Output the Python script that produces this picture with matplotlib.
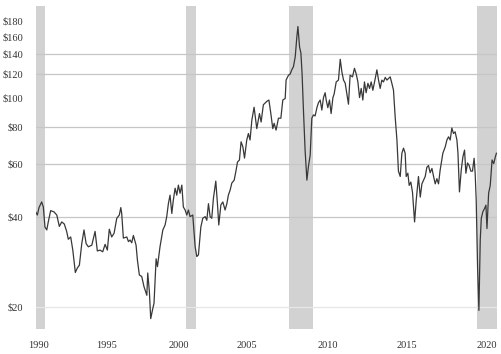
import matplotlib
matplotlib.use("Agg")
import matplotlib.pyplot as plt
from matplotlib.ticker import FixedLocator, FixedFormatter, NullLocator

years = [
    1990.25, 1990.35, 1990.46, 1990.64, 1990.75, 1990.86, 1990.98, 1991.08, 1991.24, 1991.46,
    1991.65, 1991.82, 1991.98, 1992.15, 1992.31, 1992.42, 1992.58, 1992.72, 1992.89, 1993.02,
    1993.16, 1993.32, 1993.47, 1993.61, 1993.76, 1993.99, 1994.21, 1994.36, 1994.54, 1994.72,
    1994.88, 1995.03, 1995.16, 1995.32, 1995.48, 1995.66, 1995.83, 1995.93, 1995.99, 1996.10,
    1996.33, 1996.44, 1996.55, 1996.66, 1996.77, 1996.95, 1997.04, 1997.17, 1997.33, 1997.48,
    1997.67, 1997.73, 1997.84, 1997.93, 1998.07, 1998.15, 1998.29, 1998.38, 1998.55, 1998.74,
    1998.89, 1999.00, 1999.11, 1999.22, 1999.34, 1999.44, 1999.56, 1999.67, 1999.78, 1999.89,
    2000.01, 2000.11, 2000.23, 2000.34, 2000.45, 2000.56, 2000.74, 2000.90, 2001.01, 2001.12,
    2001.28, 2001.41, 2001.57, 2001.68, 2001.79, 2001.90, 2002.01, 2002.12, 2002.28, 2002.39,
    2002.48, 2002.62, 2002.75, 2002.90, 2003.02, 2003.12, 2003.24, 2003.35, 2003.51, 2003.64,
    2003.73, 2003.86, 2003.97, 2004.09, 2004.20, 2004.35, 2004.46, 2004.57, 2004.69, 2004.84,
    2005.02, 2005.20, 2005.31, 2005.46, 2005.69, 2005.83, 2005.96, 2006.09, 2006.18, 2006.31,
    2006.47, 2006.63, 2006.76, 2006.92, 2006.98, 2007.14, 2007.25, 2007.36, 2007.47, 2007.59,
    2007.70, 2007.77, 2007.88, 2007.97, 2008.05, 2008.14, 2008.25, 2008.37, 2008.47, 2008.59,
    2008.70, 2008.81, 2008.92, 2009.04, 2009.14, 2009.26, 2009.37, 2009.48, 2009.59, 2009.66,
    2009.77, 2009.88, 2009.99, 2010.11, 2010.19, 2010.33, 2010.48, 2010.60, 2010.71, 2010.82,
    2010.93, 2011.04, 2011.15, 2011.26, 2011.42, 2011.55, 2011.67, 2011.78, 2011.89, 2012.00,
    2012.11, 2012.22, 2012.33, 2012.45, 2012.56, 2012.67, 2012.78, 2012.94, 2013.05, 2013.16,
    2013.27, 2013.38, 2013.49, 2013.61, 2013.72, 2013.83, 2013.94, 2014.05, 2014.16, 2014.27,
    2014.39, 2014.49, 2014.61, 2014.72, 2014.83, 2014.94, 2015.01, 2015.12, 2015.21, 2015.32,
    2015.43, 2015.57, 2015.68, 2015.83, 2015.95, 2016.06, 2016.17, 2016.28, 2016.39, 2016.50,
    2016.61, 2016.73, 2016.84, 2016.95, 2017.06, 2017.17, 2017.28, 2017.46, 2017.62, 2017.73,
    2017.84, 2017.95, 2018.06, 2018.17, 2018.28, 2018.40, 2018.47, 2018.57, 2018.69, 2018.80,
    2018.91, 2019.00, 2019.11, 2019.22, 2019.33, 2019.44, 2019.55, 2019.62, 2019.69, 2019.78,
    2019.87, 2019.96, 2020.03, 2020.14, 2020.25, 2020.34, 2020.41, 2020.52, 2020.63, 2020.75,
    2020.86, 2020.97, 2021.04,
]

prices = [
    41.5, 40.6, 43.0, 44.9, 43.2, 37.0, 36.2, 38.5, 42.0, 41.6,
    40.6, 37.2, 38.5, 37.9, 35.8, 33.7, 34.3, 31.0, 26.1, 27.0,
    27.6, 32.6, 36.2, 32.6, 31.8, 32.2, 35.8, 30.8, 31.0, 30.6,
    32.4, 31.0, 36.4, 34.3, 35.3, 39.6, 40.6, 43.0, 41.1, 34.0,
    34.3, 33.1, 33.5, 32.8, 34.7, 32.2, 28.7, 25.6, 25.3, 23.4,
    21.9, 26.0, 22.5, 18.3, 19.8, 20.6, 29.0, 27.3, 31.8, 36.2,
    37.6, 40.1, 44.3, 47.3, 41.1, 45.5, 49.9, 47.3, 51.1, 48.0,
    51.1, 43.2, 42.2, 40.6, 42.2, 40.1, 40.6, 31.8, 29.5, 29.9,
    37.0, 39.6, 40.1, 39.0, 44.3, 40.1, 39.6, 46.1, 52.7, 44.3,
    37.6, 43.9, 44.9, 42.2, 44.3, 47.3, 49.2, 51.9, 53.1, 57.4,
    61.0, 62.0, 71.3, 68.6, 62.9, 72.3, 76.0, 72.3, 84.2, 93.0,
    78.9, 88.6, 83.0, 94.8, 97.3, 98.3, 88.6, 78.9, 82.2, 78.0,
    85.5, 85.5, 98.3, 99.5, 114.6, 119.0, 120.0, 124.0, 127.0, 137.0,
    160.0, 173.0, 148.0, 141.0, 120.0, 91.0, 66.9, 53.1, 58.8, 64.4,
    85.5, 87.7, 87.0, 92.7, 96.2, 98.3, 91.0, 100.2, 104.0, 98.3,
    92.7, 98.3, 88.6, 100.2, 102.9, 113.0, 114.6, 134.5, 122.0, 114.6,
    112.0, 103.0, 95.2, 119.0, 117.5, 125.5, 120.0, 113.0, 100.2, 107.5,
    98.3, 113.0, 104.0, 111.8, 107.5, 113.0, 106.0, 116.0, 124.0, 114.6,
    107.5, 114.6, 113.0, 117.0, 114.6, 116.0, 117.5, 111.8, 106.0, 86.6,
    72.3, 56.9, 54.6, 65.3, 67.9, 65.3, 54.6, 56.0, 51.0, 52.3,
    48.4, 38.5, 45.5, 54.6, 46.6, 51.6, 53.1, 54.6, 58.6, 59.4,
    56.2, 58.1, 54.6, 51.6, 53.7, 51.6, 57.4, 65.3, 68.6, 72.3,
    74.1, 72.3, 79.3, 76.0, 77.0, 72.3, 65.3, 48.5, 57.4, 63.5,
    66.9, 56.0, 60.6, 59.4, 56.9, 56.9, 62.8, 56.0, 45.5, 27.3,
    19.5, 33.5, 39.6, 41.7, 42.7, 43.8, 36.6, 48.0, 51.1, 62.0,
    60.3, 63.5, 65.3,
]

recession_starts = [1990.26, 2000.29, 2007.18, 2019.76]
recession_ends = [1990.86, 2000.96, 2008.79, 2021.08]

ytick_values = [20, 40, 60, 80, 100, 120, 140, 160, 180]
ytick_labels = ["$20", "$40", "$60", "$80", "$100", "$120", "$140", "$160", "$180"]
grid_values = [40, 60, 80, 120, 140]

xtick_positions = [1990.46, 1995.01, 1999.83, 2004.37, 2009.79, 2015.07, 2020.42]
xtick_labels = ["1990", "1995", "2000", "2005", "2010", "2015", "2020"]

fig = plt.figure(figsize=(5.01, 3.54), dpi=100)
ax = fig.add_axes([36 / 501, 1 - 329 / 354, (497 - 36) / 501, (329 - 6) / 354])

for s, e in zip(recession_starts, recession_ends):
    ax.axvspan(s, e, color="#d2d2d2", lw=0, zorder=0)

for g in grid_values:
    ax.axhline(g, color="#c6c6c6", lw=0.9, zorder=1)
ax.axhline(20, color="#e6e6e6", lw=0.9, zorder=1)

ax.plot(years, prices, color="#383838", lw=0.9, zorder=3)

ax.set_yscale("log")
ax.set_ylim(16.9, 202.6)
ax.set_xlim(1990.26, 2021.08)

ax.yaxis.set_major_locator(FixedLocator(ytick_values))
ax.yaxis.set_major_formatter(FixedFormatter(ytick_labels))
ax.yaxis.set_minor_locator(NullLocator())
ax.xaxis.set_major_locator(FixedLocator(xtick_positions))
ax.xaxis.set_major_formatter(FixedFormatter(xtick_labels))

for sp in ax.spines.values():
    sp.set_visible(False)

ax.tick_params(axis="both", length=0, labelsize=7.5, colors="#333333")
ax.tick_params(axis="y", pad=9)
ax.tick_params(axis="x", pad=9)
for lab in ax.get_xticklabels() + ax.get_yticklabels():
    lab.set_fontfamily("Liberation Serif")

fig.savefig("out.png", dpi=100, facecolor="white")
